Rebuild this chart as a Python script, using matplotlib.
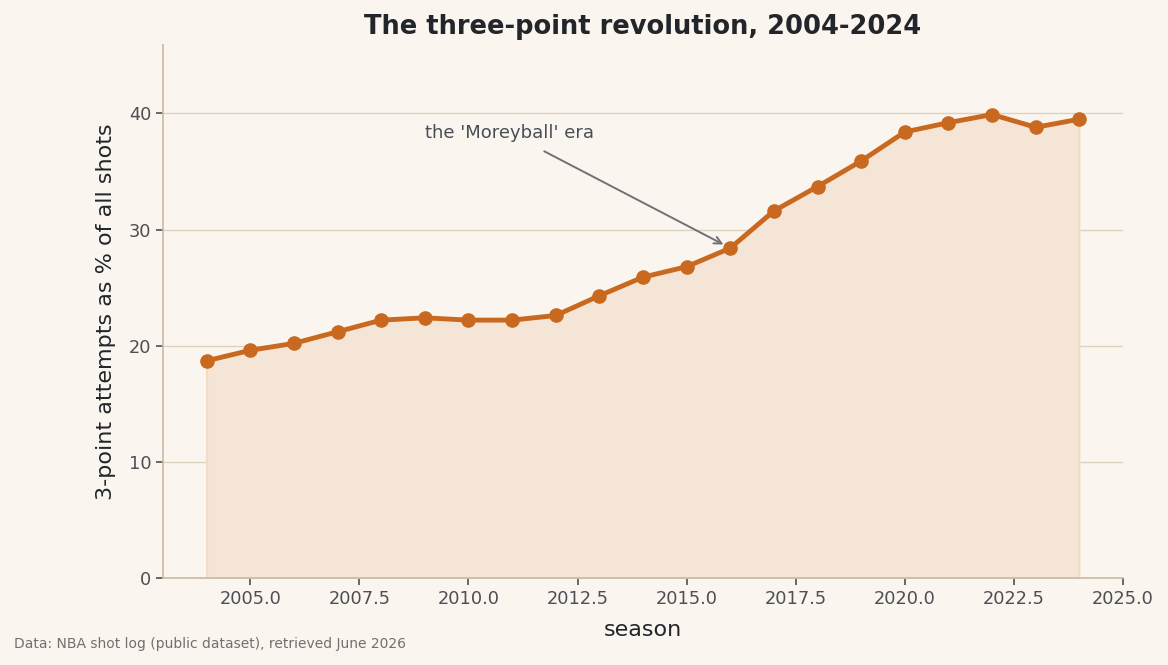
import matplotlib
matplotlib.use("Agg")
import matplotlib.pyplot as plt

seasons = [2004, 2005, 2006, 2007, 2008, 2009, 2010, 2011, 2012, 2013, 2014,
           2015, 2016, 2017, 2018, 2019, 2020, 2021, 2022, 2023, 2024]
three_pt_share = [18.7, 19.6, 20.2, 21.2, 22.2, 22.4, 22.2, 22.2, 22.6, 24.3, 25.9,
                  26.8, 28.4, 31.6, 33.7, 35.9, 38.4, 39.2, 39.9, 38.8, 39.5]

bg = "#faf6ef"
line_color = "#c8691f"

fig = plt.figure(figsize=(11.68, 6.65), dpi=100, facecolor=bg)
ax = fig.add_axes([163 / 1168, 87 / 665, 960 / 1168, 533 / 665])
ax.set_facecolor(bg)

ax.fill_between(seasons, three_pt_share, 0, color="#f4e5d6", zorder=1)
ax.plot([seasons[0], seasons[0]], [0, three_pt_share[0]], color="#f1dcc8", lw=1.5, zorder=1)
ax.plot([seasons[-1], seasons[-1]], [0, three_pt_share[-1]], color="#f1dcc8", lw=1.5, zorder=1)
ax.plot(seasons, three_pt_share, "-o", color=line_color, lw=3.5, markersize=9.5, zorder=3)

ax.set_xlim(2003, 2025)
ax.set_ylim(0, max(three_pt_share) * 1.15)
ax.set_yticks([0, 10, 20, 30, 40])
ax.grid(axis="y", color="#dcd2bd", lw=1, zorder=0)
ax.set_axisbelow(True)

for s in ["top", "right"]:
    ax.spines[s].set_visible(False)
for s in ["left", "bottom"]:
    ax.spines[s].set_color("#c8b9a3")
    ax.spines[s].set_linewidth(1.2)
ax.tick_params(colors="#4e4e55", labelsize=12.8, length=5, width=1.2)

ax.set_title("The three-point revolution, 2004-2024", fontsize=18.5, fontweight="bold",
             color="#22252a", pad=8)
ax.set_xlabel("season", fontsize=16, color="#22252a", labelpad=9)
ax.set_ylabel("3-point attempts as % of all shots", fontsize=16, color="#22252a", labelpad=9)

ax.annotate("the 'Moreyball' era", xy=(2015.9, 28.6), xytext=(2009, 38.3),
            fontsize=13, color="#4a4d55", va="center",
            arrowprops=dict(arrowstyle="->", color="#707075", lw=1.4,
                            shrinkA=10, shrinkB=2))

fig.text(14 / 1168, 1 - 644 / 665, "Data: NBA shot log (public dataset), retrieved June 2026",
         fontsize=10, color="#707070", va="center")

fig.savefig("out.png", dpi=100, facecolor=bg)
